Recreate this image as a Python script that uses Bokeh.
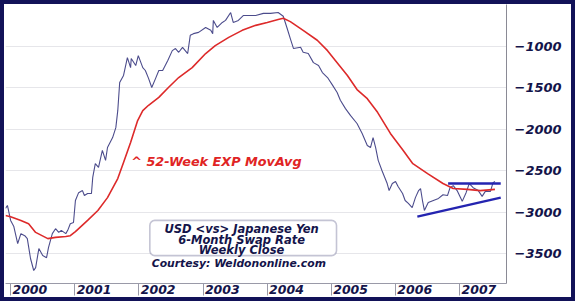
from bokeh.plotting import figure
from bokeh.models import (Range1d, FixedTicker, Label, BoxAnnotation, CustomJSTickFormatter)
from bokeh.embed import file_html
from bokeh.resources import INLINE

# --- data (decimal years, swap-rate spread) ---
close_x = [1999.92, 1999.95, 2000.00, 2000.05, 2000.11, 2000.16, 2000.22, 2000.26, 2000.31, 2000.36,
           2000.39, 2000.44, 2000.50, 2000.56, 2000.59, 2000.65, 2000.70, 2000.75, 2000.79, 2000.86,
           2000.89, 2000.93, 2000.98, 2001.01, 2001.06, 2001.12, 2001.15, 2001.20, 2001.26, 2001.28,
           2001.32, 2001.37, 2001.43, 2001.48, 2001.51, 2001.59, 2001.64, 2001.67, 2001.70, 2001.76,
           2001.82, 2001.87, 2001.88, 2001.95, 2001.99, 2002.06, 2002.10, 2002.15, 2002.20, 2002.26,
           2002.31, 2002.37, 2002.45, 2002.52, 2002.57, 2002.62, 2002.68, 2002.76, 2002.80, 2002.85,
           2002.93, 2003.04, 2003.12, 2003.15, 2003.16, 2003.22, 2003.30, 2003.35, 2003.43, 2003.47,
           2003.55, 2003.63, 2003.71, 2003.82, 2003.94, 2004.05, 2004.17, 2004.25, 2004.31, 2004.36,
           2004.41, 2004.52, 2004.56, 2004.64, 2004.72, 2004.80, 2004.86, 2004.94, 2005.02, 2005.09,
           2005.14, 2005.22, 2005.30, 2005.40, 2005.48, 2005.56, 2005.61, 2005.65, 2005.69, 2005.73,
           2005.79, 2005.87, 2005.90, 2005.95, 2006.00, 2006.04, 2006.11, 2006.15, 2006.20, 2006.26,
           2006.31, 2006.36, 2006.39, 2006.42, 2006.45, 2006.51, 2006.59, 2006.67, 2006.74, 2006.81,
           2006.85, 2006.90, 2006.96, 2007.04, 2007.10, 2007.15, 2007.21, 2007.29, 2007.35, 2007.40,
           2007.48, 2007.52, 2007.55]
close_y = [-2955, -2920, -3100, -3175, -3380, -3260, -3285, -3320, -3560, -3705,
           -3670, -3440, -3525, -3550, -3430, -3260, -3200, -3245, -3220, -3260,
           -3220, -3140, -3125, -2860, -2765, -2740, -2800, -2775, -2775, -2580,
           -2415, -2460, -2255, -2375, -2220, -2100, -1980, -1775, -1435, -1350,
           -1135, -1255, -1145, -1230, -1110, -1255, -1290, -1385, -1495, -1385,
           -1290, -1290, -1170, -1050, -1025, -1070, -1010, -1085, -865, -845,
           -830, -770, -805, -845, -685, -770, -710, -685, -590, -710,
           -685, -625, -625, -625, -600, -600, -590, -635, -780, -905,
           -1025, -1010, -1070, -1085, -1195, -1230, -1315, -1375, -1470, -1555,
           -1650, -1750, -1835, -1930, -2050, -2195, -2220, -2100, -2220, -2375,
           -2500, -2655, -2740, -2655, -2630, -2690, -2775, -2860, -2895, -2945,
           -2825, -2740, -2715, -2860, -2980, -2885, -2860, -2835, -2790, -2800,
           -2705, -2680, -2740, -2870, -2765, -2655, -2705, -2740, -2810, -2750,
           -2750, -2645, -2630]

ema_x = [1999.92, 2000.00, 2000.16, 2000.28, 2000.39, 2000.58, 2000.70, 2000.86, 2000.93, 2001.01,
         2001.20, 2001.36, 2001.51, 2001.67, 2001.76, 2001.87, 2001.98, 2002.06, 2002.15, 2002.31,
         2002.46, 2002.62, 2002.83, 2003.04, 2003.19, 2003.40, 2003.61, 2003.82, 2004.00, 2004.17,
         2004.25, 2004.36, 2004.56, 2004.78, 2004.94, 2005.09, 2005.25, 2005.40, 2005.56, 2005.72,
         2005.92, 2006.12, 2006.27, 2006.50, 2006.74, 2006.90, 2007.12, 2007.32, 2007.55]
ema_y = [-3040, -3055, -3100, -3140, -3245, -3320, -3305, -3295, -3285, -3235,
         -3100, -2980, -2825, -2595, -2400, -2160, -1895, -1775, -1710, -1615,
         -1495, -1375, -1255, -1085, -990, -890, -805, -745, -710, -675,
         -660, -700, -805, -925, -1050, -1195, -1350, -1520, -1630, -1795,
         -2050, -2255, -2415, -2535, -2655, -2715, -2725, -2740, -2725]

resist_x = [2006.82, 2007.64]
resist_y = [-2655, -2655]
support_x = [2006.34, 2007.64]
support_y = [-3055, -2825]

year_starts = [2000, 2001, 2002, 2003, 2004, 2005, 2006, 2007]
year_labels = ["2000", "2001", "2002", "2003", "2004", "2005", "2006", "2007"]
y_ticks = [-1000, -1500, -2000, -2500, -3000, -3500]

NAVY = "#121258"
TXT = "#14144a"
FONT = "DejaVu Sans"

p = figure(width=575, height=301, output_backend="svg", toolbar_location=None,
           x_range=Range1d(1999.92, 2007.73), y_range=Range1d(-3862, -493),
           y_axis_location="right",
           min_border_left=1, min_border_top=0, min_border_right=73, min_border_bottom=22)
p.styles = {"border": "4px solid " + NAVY}
p.background_fill_color = "white"
p.border_fill_color = "white"
p.outline_line_color = None

# grid
p.xgrid.visible = False
p.ygrid.ticker = FixedTicker(ticks=y_ticks)
p.ygrid.grid_line_color = "#e6e6ea"
p.ygrid.grid_line_width = 1

# x axis: labels offset into each year, tick marks at year boundaries
label_pos = [y + 0.30 for y in year_starts]
xa = p.xaxis[0]
xa.ticker = FixedTicker(ticks=label_pos, minor_ticks=year_starts)
xa.formatter = CustomJSTickFormatter(args=dict(labels=year_labels, starts=year_starts),
                                     code="return labels[starts.indexOf(Math.round(tick - 0.30))];")
xa.major_tick_line_color = None
xa.major_tick_out = 0
xa.major_tick_in = 0
xa.minor_tick_line_color = "#9a9aa8"
xa.minor_tick_out = 12
xa.minor_tick_in = 0
xa.axis_line_color = "#9a9aa8"
xa.major_label_standoff = -11
xa.major_label_text_font = FONT
xa.major_label_text_font_style = "bold italic"
xa.major_label_text_font_size = "12.5px"
xa.major_label_text_color = TXT

ya = p.yaxis[0]
ya.ticker = FixedTicker(ticks=y_ticks)
ya.major_tick_line_color = None
ya.major_tick_out = 0
ya.major_tick_in = 0
ya.minor_tick_line_color = None
ya.axis_line_color = "#8a8a95"
ya.major_label_standoff = 8
ya.major_label_text_font = FONT
ya.major_label_text_font_style = "bold italic"
ya.major_label_text_font_size = "13px"
ya.major_label_text_color = TXT

# series
p.line(close_x, close_y, line_color="#4c4c8c", line_width=1.1)
p.line(ema_x, ema_y, line_color="#dd2a2a", line_width=1.6)
p.line(resist_x, resist_y, line_color="#2424b0", line_width=2.4)
p.line(support_x, support_y, line_color="#2424b0", line_width=2.4)

# annotations
p.add_layout(Label(x=2001.88, y=-2389, text="^ 52-Week EXP MovAvg", text_font=FONT,
                   text_font_style="bold italic", text_font_size="12.8px", text_color="#e02424",
                   text_baseline="middle", text_align="left"))

p.add_layout(BoxAnnotation(left=2002.17, right=2005.08, top=-3100, bottom=-3525,
                           fill_color="white", fill_alpha=1.0, line_color="#3a3a72",
                           line_width=1.6, border_radius=5))
for ty, txt in [(-3200, "USD <vs> Japanese Yen"), (-3331, "6-Month Swap Rate"), (-3462, "Weekly Close")]:
    p.add_layout(Label(x=2003.60, y=ty, text=txt, text_font=FONT, text_font_style="bold italic",
                       text_font_size="11.5px", text_color=TXT, text_align="center",
                       text_baseline="middle"))
p.add_layout(Label(x=2002.20, y=-3621, text="Courtesy: Weldononline.com", text_font=FONT,
                   text_font_style="bold italic", text_font_size="10.8px", text_color=TXT,
                   text_align="left", text_baseline="middle"))

open("out.html", "w").write(file_html(p, INLINE))
